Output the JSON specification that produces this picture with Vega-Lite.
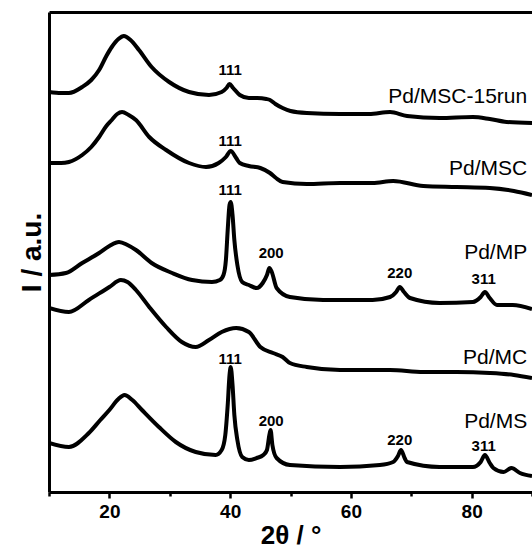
{
  "$schema": "https://vega.github.io/schema/vega-lite/v6.json",
  "width": 483,
  "height": 480,
  "autosize": {"type": "none"},
  "padding": {"left": 49, "top": 12, "right": 0, "bottom": 60},
  "background": "white",
  "config": {
    "view": {"stroke": null},
    "font": "Liberation Sans",
    "axis": {"labelFont": "Liberation Sans", "titleFont": "Liberation Sans", "domainColor": "black", "tickColor": "black", "labelColor": "black", "titleColor": "black", "grid": false}
  },
  "datasets": {
    "traces": [
      {"s": "Pd/MSC-15run", "x": 10, "y": 400}, {"s": "Pd/MSC-15run", "x": 12, "y": 399}, {"s": "Pd/MSC-15run", "x": 13.3, "y": 399}, {"s": "Pd/MSC-15run", "x": 15.5, "y": 405}, {"s": "Pd/MSC-15run", "x": 17, "y": 412}, {"s": "Pd/MSC-15run", "x": 18.3, "y": 422}, {"s": "Pd/MSC-15run", "x": 19.5, "y": 436}, {"s": "Pd/MSC-15run", "x": 20.4, "y": 445}, {"s": "Pd/MSC-15run", "x": 21.5, "y": 453}, {"s": "Pd/MSC-15run", "x": 22.4, "y": 456}, {"s": "Pd/MSC-15run", "x": 23.5, "y": 452}, {"s": "Pd/MSC-15run", "x": 24.9, "y": 442}, {"s": "Pd/MSC-15run", "x": 27, "y": 425}, {"s": "Pd/MSC-15run", "x": 29.9, "y": 410}, {"s": "Pd/MSC-15run", "x": 33.2, "y": 400}, {"s": "Pd/MSC-15run", "x": 36.5, "y": 397}, {"s": "Pd/MSC-15run", "x": 38.6, "y": 400}, {"s": "Pd/MSC-15run", "x": 39.4, "y": 404}, {"s": "Pd/MSC-15run", "x": 39.9, "y": 408}, {"s": "Pd/MSC-15run", "x": 40.5, "y": 404}, {"s": "Pd/MSC-15run", "x": 41.6, "y": 397}, {"s": "Pd/MSC-15run", "x": 43.1, "y": 394}, {"s": "Pd/MSC-15run", "x": 44.5, "y": 394}, {"s": "Pd/MSC-15run", "x": 46, "y": 393}, {"s": "Pd/MSC-15run", "x": 46.6, "y": 392}, {"s": "Pd/MSC-15run", "x": 47.5, "y": 388}, {"s": "Pd/MSC-15run", "x": 48.7, "y": 384}, {"s": "Pd/MSC-15run", "x": 50, "y": 381}, {"s": "Pd/MSC-15run", "x": 52.7, "y": 379}, {"s": "Pd/MSC-15run", "x": 58.2, "y": 378}, {"s": "Pd/MSC-15run", "x": 63, "y": 378}, {"s": "Pd/MSC-15run", "x": 66.5, "y": 380}, {"s": "Pd/MSC-15run", "x": 69.3, "y": 376}, {"s": "Pd/MSC-15run", "x": 74.7, "y": 374}, {"s": "Pd/MSC-15run", "x": 80.2, "y": 375}, {"s": "Pd/MSC-15run", "x": 83, "y": 373}, {"s": "Pd/MSC-15run", "x": 85.8, "y": 370}, {"s": "Pd/MSC-15run", "x": 90, "y": 369},

      {"s": "Pd/MSC", "x": 10, "y": 329}, {"s": "Pd/MSC", "x": 12, "y": 329}, {"s": "Pd/MSC", "x": 13.3, "y": 330}, {"s": "Pd/MSC", "x": 15.5, "y": 337}, {"s": "Pd/MSC", "x": 17, "y": 345}, {"s": "Pd/MSC", "x": 18.3, "y": 355}, {"s": "Pd/MSC", "x": 19.5, "y": 366}, {"s": "Pd/MSC", "x": 20.4, "y": 372}, {"s": "Pd/MSC", "x": 21.3, "y": 378}, {"s": "Pd/MSC", "x": 22.1, "y": 380}, {"s": "Pd/MSC", "x": 23.2, "y": 377}, {"s": "Pd/MSC", "x": 24.4, "y": 372}, {"s": "Pd/MSC", "x": 26.6, "y": 355}, {"s": "Pd/MSC", "x": 29.4, "y": 342}, {"s": "Pd/MSC", "x": 33.2, "y": 329}, {"s": "Pd/MSC", "x": 36, "y": 325}, {"s": "Pd/MSC", "x": 38.1, "y": 329}, {"s": "Pd/MSC", "x": 39.3, "y": 335}, {"s": "Pd/MSC", "x": 40.1, "y": 341}, {"s": "Pd/MSC", "x": 41, "y": 334}, {"s": "Pd/MSC", "x": 41.6, "y": 329}, {"s": "Pd/MSC", "x": 43.1, "y": 326}, {"s": "Pd/MSC", "x": 45, "y": 324}, {"s": "Pd/MSC", "x": 46.6, "y": 319}, {"s": "Pd/MSC", "x": 47.6, "y": 314}, {"s": "Pd/MSC", "x": 48.7, "y": 310}, {"s": "Pd/MSC", "x": 52.7, "y": 308}, {"s": "Pd/MSC", "x": 58.2, "y": 309}, {"s": "Pd/MSC", "x": 63.6, "y": 309}, {"s": "Pd/MSC", "x": 67, "y": 311}, {"s": "Pd/MSC", "x": 72, "y": 306}, {"s": "Pd/MSC", "x": 77.5, "y": 305}, {"s": "Pd/MSC", "x": 83, "y": 304}, {"s": "Pd/MSC", "x": 87, "y": 301}, {"s": "Pd/MSC", "x": 90, "y": 297},

      {"s": "Pd/MP", "x": 10, "y": 217}, {"s": "Pd/MP", "x": 12.8, "y": 219}, {"s": "Pd/MP", "x": 15.5, "y": 229}, {"s": "Pd/MP", "x": 18.3, "y": 239}, {"s": "Pd/MP", "x": 20, "y": 246}, {"s": "Pd/MP", "x": 21.6, "y": 250}, {"s": "Pd/MP", "x": 23, "y": 247}, {"s": "Pd/MP", "x": 24.4, "y": 242}, {"s": "Pd/MP", "x": 27, "y": 229}, {"s": "Pd/MP", "x": 30.4, "y": 219}, {"s": "Pd/MP", "x": 33.7, "y": 212}, {"s": "Pd/MP", "x": 37, "y": 210}, {"s": "Pd/MP", "x": 38.3, "y": 212}, {"s": "Pd/MP", "x": 38.9, "y": 217}, {"s": "Pd/MP", "x": 39.3, "y": 232}, {"s": "Pd/MP", "x": 39.6, "y": 262}, {"s": "Pd/MP", "x": 39.9, "y": 287}, {"s": "Pd/MP", "x": 40.1, "y": 290}, {"s": "Pd/MP", "x": 40.4, "y": 277}, {"s": "Pd/MP", "x": 40.7, "y": 252}, {"s": "Pd/MP", "x": 41.2, "y": 227}, {"s": "Pd/MP", "x": 42, "y": 210}, {"s": "Pd/MP", "x": 43.1, "y": 207}, {"s": "Pd/MP", "x": 44.4, "y": 204}, {"s": "Pd/MP", "x": 45.4, "y": 209}, {"s": "Pd/MP", "x": 46.1, "y": 217}, {"s": "Pd/MP", "x": 46.5, "y": 224}, {"s": "Pd/MP", "x": 46.9, "y": 220}, {"s": "Pd/MP", "x": 47.7, "y": 204}, {"s": "Pd/MP", "x": 49.9, "y": 195}, {"s": "Pd/MP", "x": 55.4, "y": 192}, {"s": "Pd/MP", "x": 63.6, "y": 192}, {"s": "Pd/MP", "x": 66.5, "y": 195}, {"s": "Pd/MP", "x": 67.5, "y": 200}, {"s": "Pd/MP", "x": 68.1, "y": 205}, {"s": "Pd/MP", "x": 68.8, "y": 200}, {"s": "Pd/MP", "x": 69.8, "y": 194}, {"s": "Pd/MP", "x": 74.7, "y": 189}, {"s": "Pd/MP", "x": 80.2, "y": 190}, {"s": "Pd/MP", "x": 81.5, "y": 195}, {"s": "Pd/MP", "x": 82.2, "y": 200}, {"s": "Pd/MP", "x": 83, "y": 194}, {"s": "Pd/MP", "x": 84.2, "y": 187}, {"s": "Pd/MP", "x": 86.8, "y": 187}, {"s": "Pd/MP", "x": 90, "y": 183},

      {"s": "Pd/MC", "x": 10, "y": 184}, {"s": "Pd/MC", "x": 13.3, "y": 180}, {"s": "Pd/MC", "x": 16.6, "y": 192}, {"s": "Pd/MC", "x": 20, "y": 205}, {"s": "Pd/MC", "x": 21.9, "y": 212}, {"s": "Pd/MC", "x": 23, "y": 210}, {"s": "Pd/MC", "x": 24.4, "y": 202}, {"s": "Pd/MC", "x": 26.6, "y": 185}, {"s": "Pd/MC", "x": 29.4, "y": 165}, {"s": "Pd/MC", "x": 32, "y": 150}, {"s": "Pd/MC", "x": 34.3, "y": 145}, {"s": "Pd/MC", "x": 36.5, "y": 152}, {"s": "Pd/MC", "x": 38.6, "y": 160}, {"s": "Pd/MC", "x": 41, "y": 164}, {"s": "Pd/MC", "x": 43.1, "y": 160}, {"s": "Pd/MC", "x": 45, "y": 145}, {"s": "Pd/MC", "x": 47.1, "y": 139}, {"s": "Pd/MC", "x": 48.7, "y": 135}, {"s": "Pd/MC", "x": 49.9, "y": 129}, {"s": "Pd/MC", "x": 52.7, "y": 125}, {"s": "Pd/MC", "x": 58.2, "y": 122}, {"s": "Pd/MC", "x": 66.5, "y": 122}, {"s": "Pd/MC", "x": 72, "y": 120}, {"s": "Pd/MC", "x": 77.5, "y": 120}, {"s": "Pd/MC", "x": 83, "y": 119}, {"s": "Pd/MC", "x": 87, "y": 117}, {"s": "Pd/MC", "x": 90, "y": 114},

      {"s": "Pd/MS", "x": 10, "y": 49}, {"s": "Pd/MS", "x": 13.3, "y": 45}, {"s": "Pd/MS", "x": 16.6, "y": 59}, {"s": "Pd/MS", "x": 18.5, "y": 72}, {"s": "Pd/MS", "x": 20, "y": 82}, {"s": "Pd/MS", "x": 21.5, "y": 93}, {"s": "Pd/MS", "x": 22.5, "y": 97}, {"s": "Pd/MS", "x": 23.8, "y": 92}, {"s": "Pd/MS", "x": 25.4, "y": 82}, {"s": "Pd/MS", "x": 28.2, "y": 65}, {"s": "Pd/MS", "x": 31, "y": 50}, {"s": "Pd/MS", "x": 34.3, "y": 40}, {"s": "Pd/MS", "x": 37.6, "y": 37}, {"s": "Pd/MS", "x": 38.6, "y": 42}, {"s": "Pd/MS", "x": 39.2, "y": 57}, {"s": "Pd/MS", "x": 39.6, "y": 87}, {"s": "Pd/MS", "x": 39.9, "y": 117}, {"s": "Pd/MS", "x": 40.1, "y": 125}, {"s": "Pd/MS", "x": 40.4, "y": 107}, {"s": "Pd/MS", "x": 40.7, "y": 77}, {"s": "Pd/MS", "x": 41.2, "y": 52}, {"s": "Pd/MS", "x": 42, "y": 35}, {"s": "Pd/MS", "x": 43.1, "y": 32}, {"s": "Pd/MS", "x": 44.4, "y": 34}, {"s": "Pd/MS", "x": 45.5, "y": 37}, {"s": "Pd/MS", "x": 46.1, "y": 42}, {"s": "Pd/MS", "x": 46.5, "y": 57}, {"s": "Pd/MS", "x": 46.7, "y": 62}, {"s": "Pd/MS", "x": 47, "y": 47}, {"s": "Pd/MS", "x": 47.7, "y": 34}, {"s": "Pd/MS", "x": 49.9, "y": 27}, {"s": "Pd/MS", "x": 58.2, "y": 25}, {"s": "Pd/MS", "x": 64.8, "y": 27}, {"s": "Pd/MS", "x": 67, "y": 30}, {"s": "Pd/MS", "x": 67.8, "y": 36}, {"s": "Pd/MS", "x": 68.3, "y": 42}, {"s": "Pd/MS", "x": 68.9, "y": 34}, {"s": "Pd/MS", "x": 69.3, "y": 30}, {"s": "Pd/MS", "x": 74.7, "y": 25}, {"s": "Pd/MS", "x": 80.2, "y": 25}, {"s": "Pd/MS", "x": 81.5, "y": 30}, {"s": "Pd/MS", "x": 82.2, "y": 37}, {"s": "Pd/MS", "x": 83, "y": 29}, {"s": "Pd/MS", "x": 83.6, "y": 24}, {"s": "Pd/MS", "x": 85.3, "y": 20}, {"s": "Pd/MS", "x": 86.6, "y": 24}, {"s": "Pd/MS", "x": 88, "y": 19}, {"s": "Pd/MS", "x": 90, "y": 16}
    ],
    "samples": [
      {"t": "Pd/MSC-15run", "x": 89.2, "y": 395},
      {"t": "Pd/MSC", "x": 89.2, "y": 323},
      {"t": "Pd/MP", "x": 89.2, "y": 239},
      {"t": "Pd/MC", "x": 89.2, "y": 134},
      {"t": "Pd/MS", "x": 89.2, "y": 70}
    ],
    "peaks": [
      {"t": "111", "x": 40.0, "y": 422},
      {"t": "111", "x": 40.0, "y": 351},
      {"t": "111", "x": 40.0, "y": 302},
      {"t": "200", "x": 46.8, "y": 239},
      {"t": "220", "x": 68.1, "y": 219},
      {"t": "311", "x": 82.0, "y": 213},
      {"t": "111", "x": 40.0, "y": 133},
      {"t": "200", "x": 46.8, "y": 71},
      {"t": "220", "x": 68.1, "y": 52},
      {"t": "311", "x": 82.0, "y": 46}
    ]
  },
  "layer": [
    {
      "data": {"name": "traces"},
      "mark": {"type": "line", "color": "black", "strokeWidth": 4, "strokeJoin": "round", "interpolate": "monotone", "clip": true},
      "encoding": {
        "x": {
          "field": "x", "type": "quantitative",
          "scale": {"domain": [10, 90], "nice": false, "zero": false},
          "axis": {
            "orient": "bottom",
            "title": "2θ / °",
            "titleFontSize": 26, "titleFontWeight": "bold", "titlePadding": 1,
            "values": [10, 20, 30, 40, 50, 60, 70, 80, 90],
            "labelExpr": "datum.value % 20 === 0 && datum.value < 90 ? datum.label : ''",
            "labelFontSize": 19, "labelFontWeight": "bold", "labelPadding": 4,
            "tickSize": {"condition": {"test": "datum.value % 20 === 0", "value": 6}, "value": 4},
            "tickWidth": 2.5,
            "domainWidth": 3
          }
        },
        "y": {
          "field": "y", "type": "quantitative",
          "scale": {"domain": [0, 480], "nice": false, "zero": false},
          "axis": {
            "orient": "left",
            "title": "I / a.u.",
            "titleFontSize": 28, "titleFontWeight": "bold", "titlePadding": 3,
            "labels": false, "ticks": false,
            "domainWidth": 3
          }
        },
        "detail": {"field": "s"}
      }
    },
    {
      "data": {"name": "samples"},
      "mark": {"type": "text", "align": "right", "baseline": "middle", "fontSize": 21, "font": "Liberation Sans", "color": "black"},
      "encoding": {
        "x": {"field": "x", "type": "quantitative", "axis": {"orient": "top", "labels": false, "ticks": false, "title": null, "domainWidth": 3}},
        "y": {"field": "y", "type": "quantitative"},
        "text": {"field": "t"}
      }
    },
    {
      "data": {"name": "peaks"},
      "mark": {"type": "text", "align": "center", "baseline": "middle", "fontSize": 15, "fontWeight": "bold", "font": "Liberation Sans", "color": "black"},
      "encoding": {
        "x": {"field": "x", "type": "quantitative", "axis": null},
        "y": {"field": "y", "type": "quantitative"},
        "text": {"field": "t"}
      }
    }
  ],
  "resolve": {"axis": {"x": "independent"}}
}
